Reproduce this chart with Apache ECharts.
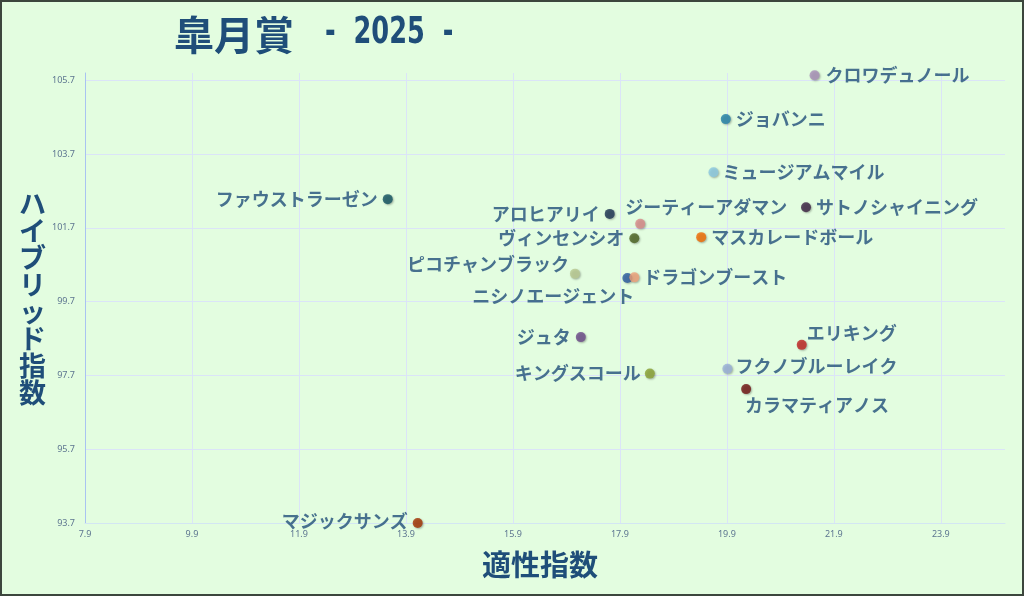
<!DOCTYPE html>
<html>
<head>
<meta charset="utf-8">
<script src="https://cdn.jsdelivr.net/npm/echarts@6/dist/echarts.min.js"></script>
<style>
html,body{margin:0;padding:0;background:#e3fde0;}
#c{width:1024px;height:596px;}
</style>
</head>
<body>
<div id="c"></div>
<script>
// ---- data ----
const horseNames = ["クロワデュノール","ジョバンニ","ミュージアムマイル","サトノシャイニング","アロヒアリイ","ジーティーアダマン","ヴィンセンシオ","マスカレードボール","ピコチャンブラック","ニシノエージェント","ドラゴンブースト","ジュタ","キングスコール","エリキング","フクノブルーレイク","カラマティアノス","ファウストラーゼン","マジックサンズ"];
const aptitudeIndex = [21.54,19.88,19.65,21.38,17.71,18.28,18.17,19.42,17.06,18.04,18.17,17.17,18.46,21.30,19.91,20.26,13.56,14.12];
const hybridIndex   = [105.84,104.65,103.21,102.26,102.08,101.81,101.42,101.45,100.46,100.34,100.36,98.74,97.75,98.53,97.88,97.33,102.48,93.70];
const xTickMin = 7.9, xTickStep = 2, xMax = 25.1;
const yTickMin = 93.7, yTickStep = 2, yMax = 105.9;
const titleMain = "皐月賞", titleYear = "-  2025  -";
const xName = "適性指数", yName = "ハイブリッド指数";

// ---- styles ----
const dotColors = ["#a990b9","#2181a9","#8bc9e2","#3b2142","#1b3252","#d98a8a","#4b6121","#f26a00","#b9c991","#2959a1","#f1a17a","#6b4989","#89a132","#c12222","#9ab1d9","#711212","#115262","#a23100"];
const labelStyle = {
  "クロワデュノール":{position:"right",distance:6},
  "ジョバンニ":{position:"right",distance:5},
  "ミュージアムマイル":{position:"right",distance:4},
  "サトノシャイニング":{position:"right",distance:5},
  "アロヒアリイ":{position:"left",distance:5},
  "ジーティーアダマン":{position:"right",distance:5,offset:[-25,-17]},
  "ヴィンセンシオ":{position:"left",distance:5},
  "マスカレードボール":{position:"right",distance:5},
  "ピコチャンブラック":{position:"left",distance:5,offset:[4,-9]},
  "ニシノエージェント":{position:"bottom",distance:4,offset:[-74,0]},
  "ドラゴンブースト":{position:"right",distance:4},
  "ジュタ":{position:"left",distance:5},
  "キングスコール":{position:"left",distance:4},
  "エリキング":{position:"right",distance:5,offset:[-5,-12]},
  "フクノブルーレイク":{position:"right",distance:3,offset:[0,-3]},
  "カラマティアノス":{position:"bottom",distance:4,offset:[71,-2]},
  "ファウストラーゼン":{position:"left",distance:5},
  "マジックサンズ":{position:"left",distance:5,offset:[0,-2]}
};
const ink = "#1f4e79";

const seriesData = horseNames.map((n,i)=>({
  name:n,
  value:[aptitudeIndex[i],hybridIndex[i]],
  itemStyle:{color:dotColors[i]},
  label:Object.assign({show:true,formatter:n}, labelStyle[n])
}));

const chart = echarts.init(document.getElementById('c'));
chart.setOption({
  backgroundColor:"#e3fde0",
  animation:false,
  title:{
    left:169, top:10,
    text:titleMain,
    textStyle:{fontFamily:"Noto Sans CJK JP",fontWeight:"bold",fontSize:40,color:ink}
  },
  graphic:[
    {type:"rect",silent:true,z:100,shape:{x:1,y:1,width:1022,height:594},style:{fill:"none",stroke:"#3c463d",lineWidth:2}},
    {type:"text",silent:true,x:325,y:14,scaleX:0.75,
     style:{text:titleYear,x:0,y:0,fill:ink,font:"bold 38px 'Liberation Sans Narrow','DejaVu Sans Condensed','Roboto Condensed',sans-serif",textVerticalAlign:"top"}}
  ],
  grid:{left:85,right:19,top:73,bottom:73},
  xAxis:{
    type:"value", min:xTickMin, max:xMax, interval:xTickStep,
    name:xName, nameLocation:"middle", nameGap:27,
    nameTextStyle:{fontFamily:"Noto Sans CJK JP",fontWeight:"bold",fontSize:29,color:ink,padding:[0,10,0,0]},
    axisLine:{show:true,lineStyle:{color:"#d3e6f3",width:1}},
    axisTick:{show:false},
    axisLabel:{color:"#5d7590",fontSize:9,fontFamily:"Noto Sans",margin:7,showMaxLabel:false,formatter:v=>v.toFixed(1)},
    splitLine:{show:true,showMaxLine:false,lineStyle:{color:"#dbe4f8",width:1}}
  },
  yAxis:{
    type:"value", min:yTickMin, max:yMax, interval:yTickStep,
    name:yName.split("").join("\n"), nameLocation:"middle", nameRotate:0, nameGap:38,
    nameTextStyle:{fontFamily:"Noto Sans CJK JP",fontWeight:"bold",fontSize:27,lineHeight:27,color:ink,align:"center"},
    axisLine:{show:true,lineStyle:{color:"#a9c3f1",width:1}},
    axisTick:{show:false},
    axisLabel:{color:"#5d7590",fontSize:9,fontFamily:"Noto Sans",margin:10,showMaxLabel:false,formatter:v=>v.toFixed(1)},
    splitLine:{show:true,showMaxLine:false,lineStyle:{color:"#dbe4f8",width:1}}
  },
  series:[{
    type:"scatter",
    symbolSize:10,
    data:seriesData,
    itemStyle:{shadowBlur:2,shadowColor:"rgba(0,0,0,0.35)",shadowOffsetX:1,shadowOffsetY:1},
    label:{color:ink,fontFamily:"Noto Sans CJK JP",fontWeight:"bold",fontSize:18}
  }]
});
</script>
</body>
</html>
